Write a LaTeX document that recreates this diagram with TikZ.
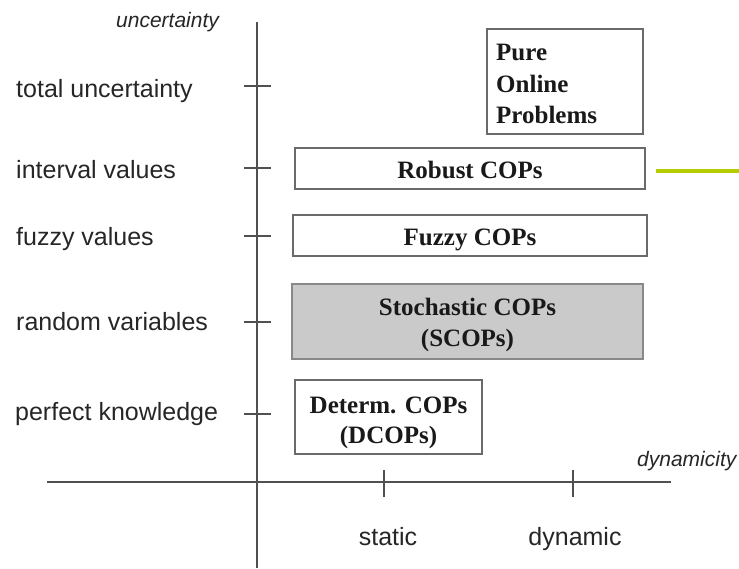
\documentclass[tikz,border=0pt]{standalone}
\usepackage{fontspec}
\setmainfont{Liberation Serif}
\setsansfont{Liberation Sans}
\definecolor{boxline}{HTML}{6A6A6A}
\definecolor{axisline}{HTML}{505050}
\definecolor{stochfill}{HTML}{CACACA}
\definecolor{limegreen}{HTML}{B4CC00}
\begin{document}
\begin{tikzpicture}[x=1pt,y=-1pt,
  axis/.style={draw=axisline,line width=1.3pt},
  tick/.style={draw=axisline,line width=1.1pt},
  lbl/.style={anchor=base west,inner sep=0pt,font=\sffamily\fontsize{25}{30}\selectfont,text=black!85},
  axlbl/.style={anchor=base west,inner sep=0pt,font=\sffamily\itshape\fontsize{21}{25}\selectfont,text=black!85},
  xlbl/.style={anchor=base,inner sep=0pt,font=\sffamily\fontsize{25}{30}\selectfont,text=black!85},
  copbox/.style={draw=boxline,line width=1.6pt,rectangle,inner sep=0pt},
  coptext/.style={anchor=base,inner sep=0pt,font=\rmfamily\bfseries\fontsize{25}{32}\selectfont,text=black!90},
  coptextl/.style={coptext,anchor=base west}
]
\useasboundingbox (0,0) rectangle (739,568);
% axes
\coordinate (vtop) at (257,22);
\coordinate (vbot) at (257,568);
\coordinate (hl) at (47,482);
\coordinate (hr) at (671,482);
\draw[axis] (vtop) -- (vbot);
\draw[axis] (hl) -- (hr);
% ticks on uncertainty axis
\foreach \y/\n in {86/ta,168/tb,236/tc,322/td,414/te}{
  \coordinate (\n1) at (244,\y); \coordinate (\n2) at (271,\y);
  \draw[tick] (\n1) -- (\n2);
}
% ticks on dynamicity axis
\foreach \x/\n in {384/sa,573/sb}{
  \coordinate (\n1) at (\x,470); \coordinate (\n2) at (\x,497);
  \draw[tick] (\n1) -- (\n2);
}
% axis labels
\node[axlbl] (unc) at (116,27) {uncertainty};
\node[axlbl] (dyn) at (637,466) {dynamicity};
\node[lbl] (l1) at (16,97) {total uncertainty};
\node[lbl] (l2) at (16,178) {interval values};
\node[lbl] (l3) at (16,245) {fuzzy values};
\node[lbl] (l4) at (16,330) {random variables};
\node[lbl] (l5) at (15,420) {perfect knowledge};
\node[xlbl] (st) at (388,545) {static};
\node[xlbl] (dy) at (575,545) {dynamic};
% boxes
\node[copbox,minimum width=156pt,minimum height=105pt] (pure) at (565,81.5) {};
\node[coptextl] (pure1) at (496,60) {Pure};
\node[coptextl] (pure2) at (496,92) {Online};
\node[coptextl] (pure3) at (496,123) {Problems};
\node[copbox,minimum width=350pt,minimum height=41pt] (robust) at (470,168.5) {};
\node[coptext] (robustt) at (470,178) {Robust COPs};
\node[copbox,minimum width=354pt,minimum height=41pt] (fuzzy) at (470,235.5) {};
\node[coptext] (fuzzyt) at (470,245) {Fuzzy COPs};
\node[copbox,fill=stochfill,draw=boxline!80,minimum width=351pt,minimum height=75pt] (stoch) at (467.5,321.5) {};
\node[coptext] (stoch1) at (467.5,315) {Stochastic COPs};
\node[coptext] (stoch2) at (467.5,346) {(SCOPs)};
\node[copbox,minimum width=187pt,minimum height=74pt] (determ) at (388.5,417) {};
\node[coptext] (determ1) at (388.5,413) {Determ. COPs};
\node[coptext] (determ2) at (388.5,443) {(DCOPs)};
% green line
\coordinate (g1) at (656,171);
\coordinate (g2) at (739,171);
\draw[limegreen,line width=3.5pt] (g1) -- (g2);
\end{tikzpicture}
\end{document}
